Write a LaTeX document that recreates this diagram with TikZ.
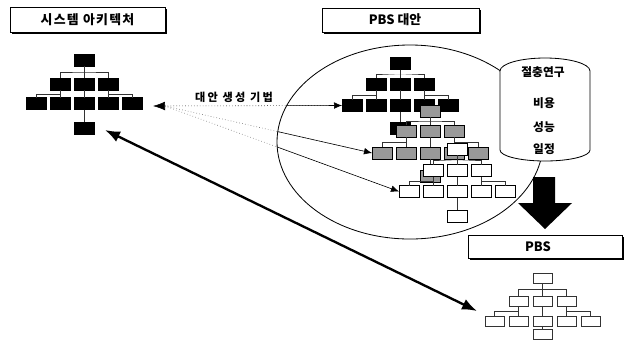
\documentclass[tikz,border=0pt]{standalone}
\usepackage{fontspec}
\usetikzlibrary{arrows.meta,calc}
\newfontfamily\kr{Noto Sans CJK KR}
\newcommand{\mytree}[8]{%
  \node[#8] (#1t) at (#2,#4) {};
  \node[#8] (#1ma) at (#2-#3,#5) {};
  \node[#8] (#1mb) at (#2,#5) {};
  \node[#8] (#1mc) at (#2+#3,#5) {};
  \node[#8] (#1la) at (#2-2*#3,#6) {};
  \node[#8] (#1lb) at (#2-#3,#6) {};
  \node[#8] (#1lc) at (#2,#6) {};
  \node[#8] (#1ld) at (#2+#3,#6) {};
  \node[#8] (#1le) at (#2+2*#3,#6) {};
  \node[#8] (#1z) at (#2,#7) {};
  \draw[conn] (#1t.south) -- (#1mb.north);
  \draw[conn] (#1ma.north) |- ($(#1t.south)!.5!(#1mb.north)$) -| (#1mc.north);
  \draw[conn] (#1mb.south) -- (#1lc.north);
  \draw[conn] (#1lc.south) -- (#1z.north);
  \draw[conn] (#1ma.south) -- (#1lb.north);
  \draw[conn] (#1la.north) |- ($(#1ma.south)!.5!(#1lb.north)$);
  \draw[conn] (#1mc.south) -- (#1ld.north);
  \draw[conn] (#1le.north) |- ($(#1mc.south)!.5!(#1ld.north)$);
}
\begin{document}
\begin{tikzpicture}[x=0.03cm,y=-0.03cm,
  conn/.style={line width=0.4pt, black!80},
  bbox/.style={draw=black, fill=black, minimum width=0.6cm, minimum height=0.36cm, inner sep=0pt, outer sep=0pt, line width=0.4pt},
  gbox/.style={bbox, fill=black!40},
  wbox/.style={bbox, fill=white},
  pbox/.style={bbox, fill=white, minimum width=0.57cm, minimum height=0.3cm, draw=black!80},
  titlebox/.style={draw=black, fill=white, line width=0.7pt, inner sep=0pt, outer sep=0pt},
  ttext/.style={font=\kr\bfseries\fontsize{11}{13}\selectfont, inner sep=0pt},
  ctext/.style={font=\kr\bfseries\fontsize{10}{12}\selectfont},
]
\useasboundingbox[fill=white] (0,0) rectangle (625,352);

% title boxes
\fill[black] (11.5,8.5) rectangle (166.5,33.5);
\node[titlebox, minimum width=4.65cm, minimum height=0.75cm] (t1) at (87.5,19.5) {};
\node[ttext] (t1t) at (87.5,19.5) {\addfontfeatures{LetterSpace=10}시스템 아키텍처};
\fill[black] (323.5,9.5) rectangle (480.5,33.5);
\node[titlebox, minimum width=4.71cm, minimum height=0.72cm] (t2) at (400.5,20) {};
\node[ttext] (t2t) at (395,20) {PBS 대안};
\fill[black] (469.5,236.5) rectangle (623.5,259.5);
\node[titlebox, minimum width=4.62cm, minimum height=0.69cm] (t3) at (545,246.5) {};
\node[ttext] (t3t) at (538,246.5) {PBS};

% tree 1 (system architecture)
\mytree{a}{84}{24}{60}{84}{103.5}{128}{bbox}

% big ellipse
\draw[line width=0.7pt] (410,142) ellipse [x radius=3.99cm, y radius=2.91cm];

% tree 2 (PBS alternatives): black, gray, white layers
\mytree{b}{400}{24}{63.5}{84}{105.5}{128}{bbox}
\mytree{g}{430}{24}{111}{131}{153}{176}{gbox}
\mytree{w}{457}{24}{149}{170.5}{191.5}{216}{wbox}

% tree 3 (PBS)
\mytree{p}{542.5}{24}{278}{301}{321.5}{334.5}{pbox}

% cylinder
\filldraw[fill=white, line width=0.7pt] (500,71) -- (500,150)
  arc[start angle=180, end angle=360, x radius=1.35cm, y radius=0.33cm] -- (590,71)
  arc[start angle=0, end angle=180, x radius=1.35cm, y radius=0.39cm] -- cycle;
\node[ctext] (c1) at (543,72) {절충연구};
\node[ctext] (c2) at (544,103) {비용};
\node[ctext] (c3) at (544,127.5) {성능};
\node[ctext] (c4) at (544,149) {일정};

% big black down arrow
\fill[black] (533,177) -- (555,177) -- (555,203) -- (572,203) -- (545,229) -- (518,203) -- (533,203) -- cycle;

% alternative generation arrows
\coordinate (src) at (153,106);
\coordinate (srcb) at (165,106);
\draw[dotted, line width=0.5pt, {Latex[length=0.36cm,width=0.26cm]}-] (src) -- (bla.west);
\draw[dotted, line width=0.5pt, black!60] (srcb) -- (gla.west);
\draw[dotted, line width=0.5pt, black!60] (srcb) -- (wla.west);
\begin{scope}
  \clip (410,142) ellipse [x radius=3.99cm, y radius=2.91cm];
  \draw[line width=0.5pt, -{Latex[length=0.24cm,width=0.2cm]}] (srcb) -- (bla.west);
  \draw[line width=0.5pt, -{Latex[length=0.24cm,width=0.2cm]}] (srcb) -- (gla.west);
  \draw[line width=0.5pt, -{Latex[length=0.24cm,width=0.2cm]}] (srcb) -- (wla.west);
\end{scope}
\node[font=\kr\bfseries\fontsize{9.5}{11}\selectfont] (lab) at (234,97)
  {\addfontfeatures{LetterSpace=20}대안 생성 기법};

% long double arrow
\coordinate (la) at (105,130);
\coordinate (lb) at (477,311);
\draw[line width=2pt, {Latex[length=0.45cm,width=0.34cm]}-{Latex[length=0.45cm,width=0.34cm]}] (la) -- (lb);
\end{tikzpicture}
\end{document}
